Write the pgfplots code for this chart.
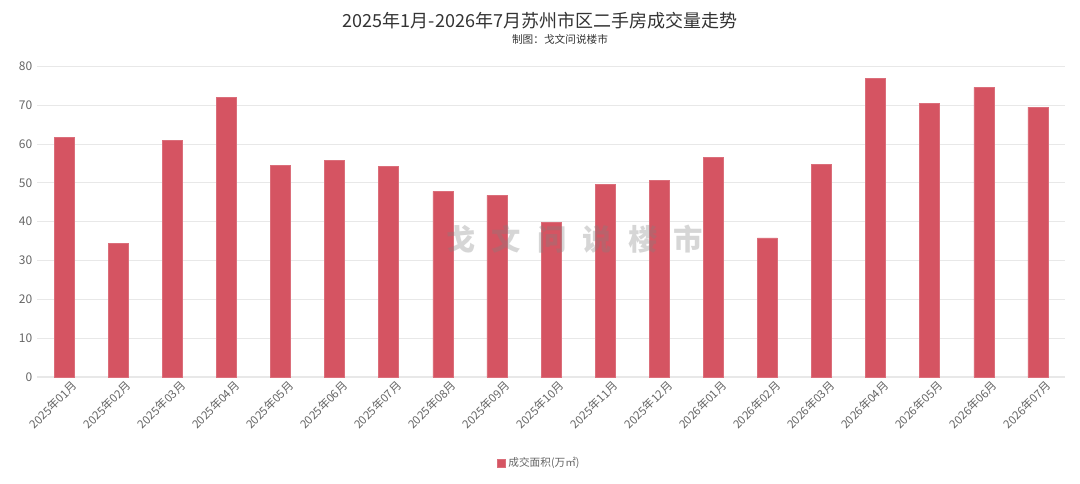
\documentclass[border=0pt]{standalone}
\usepackage{fontspec}
\setmainfont{Noto Sans CJK SC}
\usepackage{pgfplots}
\pgfplotsset{compat=1.18}
\definecolor{barred}{HTML}{D55462}
\definecolor{gridc}{HTML}{E8E8E8}
\definecolor{tickc}{HTML}{666666}
\definecolor{titlec}{HTML}{333333}

\pgfplotstableread{
x val
0 61.7
1 34.5
2 61.0
3 72.0
4 54.5
5 55.8
6 54.3
7 47.8
8 46.8
9 39.9
10 49.6
11 50.7
12 56.6
13 35.8
14 54.8
15 76.9
16 70.5
17 74.6
18 69.5
}\sales

\begin{document}
\begin{tikzpicture}
\path (0,0) rectangle (810pt,362.25pt);
\node[text=titlec, font=\fontsize{13.5}{15}\selectfont] at (405pt,347pt) {2025年1月-2026年7月苏州市区二手房成交量走势};
\node[text=titlec, font=\fontsize{8}{9}\selectfont] at (420pt,333pt) {制图：戈文问说楼市};
\begin{axis}[
    at={(27.75pt,79.5pt)}, anchor=south west,
    scale only axis,
    width=771pt, height=233pt,
    ybar, bar width=15pt,
    xmin=-0.5, xmax=18.5,
    ymin=0, ymax=80,
    ytick={0,10,...,80},
    xtick=data,
    xticklabels={2025年01月,2025年02月,2025年03月,2025年04月,2025年05月,2025年06月,2025年07月,2025年08月,2025年09月,2025年10月,2025年11月,2025年12月,2026年01月,2026年02月,2026年03月,2026年04月,2026年05月,2026年06月,2026年07月},
    x tick label style={rotate=45, anchor=north east, font=\fontsize{8.6}{9}\selectfont, text=tickc, inner sep=1pt, xshift=3.5pt, yshift=-4pt},
    y tick label style={font=\fontsize{9}{10}\selectfont, text=tickc},
    /pgf/number format/assume math mode=true,
    ymajorgrids, grid style={gridc, line width=0.6pt},
    major tick length=0pt,
    separate axis lines,
    axis x line*=bottom,
    axis y line*=left,
    x axis line style={draw=gridc, line width=0.8pt, -},
    y axis line style={draw=none},
    legend style={at={(0.489,-0.277)}, anchor=center, draw=none, font=\fontsize{8}{9}\selectfont, text=tickc},
    legend image code/.code={\fill[#1] (0pt,-3pt) rectangle (6pt,3pt);},
]
\addplot[fill=barred, draw=barred!85!white, line width=0.4pt] table[x=x, y=val] {\sales};
\legend{成交面积(万㎡)}
\node[text=gray, opacity=0.32, font=\fontsize{22}{24}\selectfont\bfseries] at (axis cs:9.44,35.5) {戈\hspace{0.55em}文\hspace{0.55em}问\hspace{0.55em}说\hspace{0.55em}楼\hspace{0.55em}市};
\end{axis}
\end{tikzpicture}
\end{document}
